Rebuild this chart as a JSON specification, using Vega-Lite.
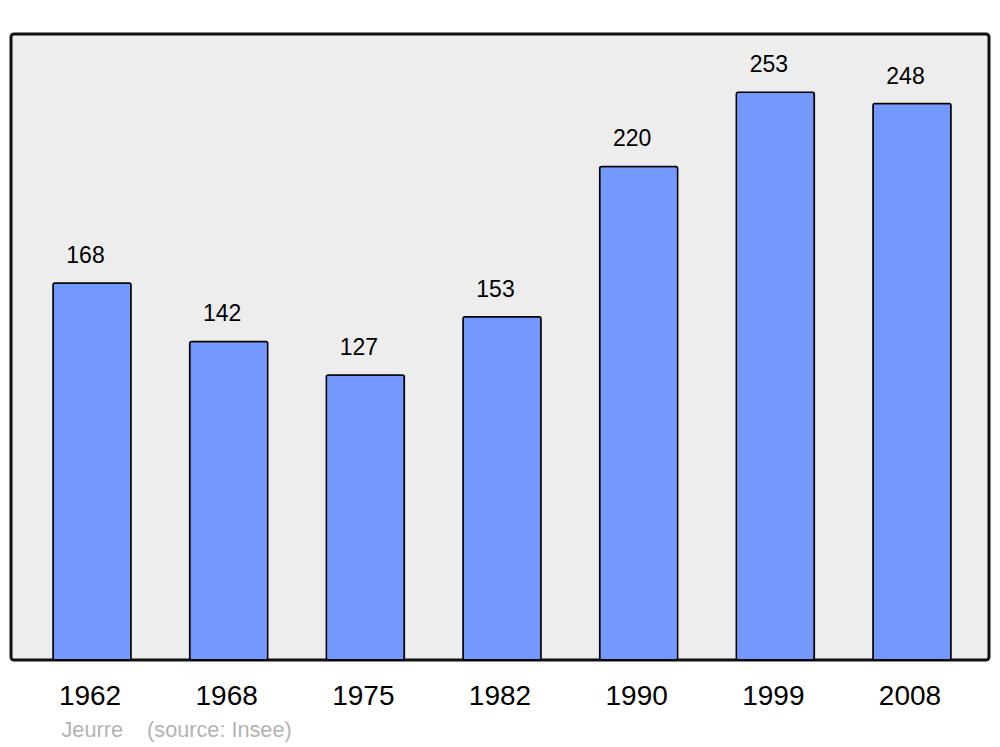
{
  "$schema": "https://vega.github.io/schema/vega-lite/v6.json",
  "width": 978,
  "height": 626,
  "autosize": {"type": "none"},
  "padding": {"left": 11, "top": 34, "right": 11, "bottom": 87},
  "background": "#ffffff",
  "config": {
    "font": "Liberation Sans",
    "view": {"fill": "#ededed", "stroke": "#111111", "strokeWidth": 3, "cornerRadius": 3}
  },
  "data": {
    "values": [
      {"year": "1962", "pop": 168},
      {"year": "1968", "pop": 142},
      {"year": "1975", "pop": 127},
      {"year": "1982", "pop": 153},
      {"year": "1990", "pop": 220},
      {"year": "1999", "pop": 253},
      {"year": "2008", "pop": 248}
    ]
  },
  "encoding": {
    "x": {
      "field": "year",
      "type": "ordinal",
      "sort": null,
      "scale": {"paddingInner": 0.429, "paddingOuter": 0.2927, "align": 0.525},
      "axis": {
        "title": "Jeurre\u00a0\u00a0\u00a0 (source: Insee)",
        "titleX": 50,
        "titleY": 76,
        "titleAlign": "left",
        "titleAnchor": "start",
        "titleBaseline": "alphabetic",
        "titleColor": "#b3b3b3",
        "titleFontSize": 21.7,
        "titleFontWeight": "normal",
        "titleFont": "Liberation Sans",
        "domain": false,
        "ticks": false,
        "tickSize": 0,
        "labelAngle": 0,
        "labelFontSize": 28,
        "labelColor": "#000000",
        "labelFont": "Liberation Sans",
        "labelBaseline": "alphabetic",
        "labelPadding": 44,
        "labelOffset": -2,
        "grid": false
      }
    },
    "y": {
      "field": "pop",
      "type": "quantitative",
      "scale": {"domain": [0, 279], "nice": false, "zero": true},
      "axis": null
    }
  },
  "layer": [
    {
      "mark": {"type": "bar", "fill": "#7399ff", "stroke": "#000000", "strokeWidth": 1.5, "cornerRadius": 2}
    },
    {
      "mark": {"type": "text", "baseline": "alphabetic", "align": "center", "dy": -20, "dx": -6.5, "fontSize": 23, "color": "#000000", "font": "Liberation Sans"},
      "encoding": {"text": {"field": "pop", "type": "quantitative"}}
    }
  ]
}
